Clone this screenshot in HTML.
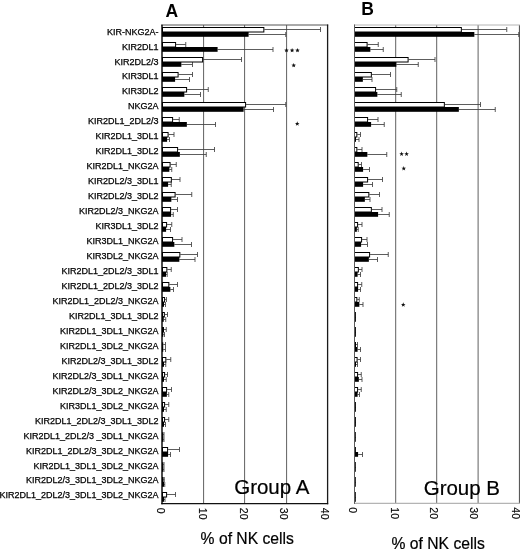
<!DOCTYPE html>
<html><head><meta charset="utf-8"><title>Figure</title>
<style>
html,body{margin:0;padding:0;background:#fff;}
svg text{font-family:"Liberation Sans",sans-serif;}
body{width:520px;height:550px;position:relative;overflow:hidden;font-family:"Liberation Sans",sans-serif;}
</style></head><body>
<svg width="520" height="550" viewBox="0 0 520 550" style="position:absolute;left:0;top:0;will-change:transform">
<rect width="520" height="550" fill="#fff"/>
<line x1="203.6" y1="25" x2="203.6" y2="503.5" stroke="#606060" stroke-width="1"/>
<line x1="244.6" y1="25" x2="244.6" y2="503.5" stroke="#606060" stroke-width="1"/>
<line x1="286.6" y1="25" x2="286.6" y2="503.5" stroke="#606060" stroke-width="1"/>
<line x1="161.2" y1="25.0" x2="328.2" y2="25.0" stroke="#555" stroke-width="1"/>
<line x1="327.6" y1="24.5" x2="327.6" y2="504.2" stroke="#1a1a1a" stroke-width="1.3"/>
<line x1="161.3" y1="503.6" x2="328.2" y2="503.6" stroke="#111" stroke-width="1.3"/>
<line x1="395.7" y1="25" x2="395.7" y2="503" stroke="#606060" stroke-width="1"/>
<line x1="436.7" y1="25" x2="436.7" y2="503" stroke="#606060" stroke-width="1"/>
<line x1="478.1" y1="25" x2="478.1" y2="503" stroke="#606060" stroke-width="1"/>
<line x1="519.6" y1="25" x2="519.6" y2="503.5" stroke="#5a5a5a" stroke-width="1.4"/>
<line x1="354" y1="25" x2="520" y2="25" stroke="#b4b4b4" stroke-width="1"/>
<line x1="354" y1="503.4" x2="520" y2="503.4" stroke="#b4b4b4" stroke-width="1.1"/>
<path d="M264.35 29.50 H320.50 M320.50 27.00 V32.00" stroke="#404040" stroke-width="0.85" fill="none"/>
<path d="M248.60 34.50 H285.75 M285.75 32.00 V37.00" stroke="#404040" stroke-width="0.85" fill="none"/>
<rect x="162.50" y="27.50" width="101.35" height="4.50" fill="#fff" stroke="#000" stroke-width="1"/>
<rect x="162.00" y="32.00" width="86.60" height="4.80" fill="#000"/>
<path d="M176.10 44.50 H185.75 M185.75 42.00 V47.00" stroke="#404040" stroke-width="0.85" fill="none"/>
<path d="M217.60 49.50 H273.00 M273.00 47.00 V52.00" stroke="#404040" stroke-width="0.85" fill="none"/>
<rect x="162.50" y="42.50" width="13.10" height="4.50" fill="#fff" stroke="#000" stroke-width="1"/>
<rect x="162.00" y="47.00" width="55.60" height="4.80" fill="#000"/>
<path d="M203.10 59.50 H241.50 M241.50 57.00 V62.00" stroke="#404040" stroke-width="0.85" fill="none"/>
<path d="M181.35 64.50 H192.50 M192.50 62.00 V67.00" stroke="#404040" stroke-width="0.85" fill="none"/>
<rect x="162.50" y="57.50" width="40.10" height="4.50" fill="#fff" stroke="#000" stroke-width="1"/>
<rect x="162.00" y="62.00" width="19.35" height="4.80" fill="#000"/>
<path d="M178.60 74.50 H192.50 M192.50 72.00 V77.00" stroke="#404040" stroke-width="0.85" fill="none"/>
<path d="M175.10 79.50 H189.50 M189.50 77.00 V82.00" stroke="#404040" stroke-width="0.85" fill="none"/>
<rect x="162.50" y="72.50" width="15.60" height="4.50" fill="#fff" stroke="#000" stroke-width="1"/>
<rect x="162.00" y="77.00" width="13.10" height="4.80" fill="#000"/>
<path d="M187.10 89.50 H208.25 M208.25 87.00 V92.00" stroke="#404040" stroke-width="0.85" fill="none"/>
<path d="M184.35 94.50 H200.50 M200.50 92.00 V97.00" stroke="#404040" stroke-width="0.85" fill="none"/>
<rect x="162.50" y="87.50" width="24.10" height="4.50" fill="#fff" stroke="#000" stroke-width="1"/>
<rect x="162.00" y="92.00" width="22.35" height="4.80" fill="#000"/>
<path d="M246.10 104.50 H285.75 M285.75 102.00 V107.00" stroke="#404040" stroke-width="0.85" fill="none"/>
<path d="M243.60 109.50 H273.50 M273.50 107.00 V112.00" stroke="#404040" stroke-width="0.85" fill="none"/>
<rect x="162.50" y="102.50" width="83.10" height="4.50" fill="#fff" stroke="#000" stroke-width="1"/>
<rect x="162.00" y="107.00" width="81.60" height="4.80" fill="#000"/>
<path d="M173.10 119.50 H179.25 M179.25 117.00 V122.00" stroke="#404040" stroke-width="0.85" fill="none"/>
<path d="M186.85 124.50 H215.50 M215.50 122.00 V127.00" stroke="#404040" stroke-width="0.85" fill="none"/>
<rect x="162.50" y="117.50" width="10.10" height="4.50" fill="#fff" stroke="#000" stroke-width="1"/>
<rect x="162.00" y="122.00" width="24.85" height="4.80" fill="#000"/>
<path d="M168.60 134.50 H174.00 M174.00 132.00 V137.00" stroke="#404040" stroke-width="0.85" fill="none"/>
<path d="M167.10 139.50 H169.50 M169.50 137.00 V142.00" stroke="#404040" stroke-width="0.85" fill="none"/>
<rect x="162.50" y="132.50" width="5.60" height="4.50" fill="#fff" stroke="#000" stroke-width="1"/>
<rect x="162.00" y="137.00" width="5.10" height="4.80" fill="#000"/>
<path d="M178.10 149.50 H214.50 M214.50 147.00 V152.00" stroke="#404040" stroke-width="0.85" fill="none"/>
<path d="M179.85 154.50 H206.25 M206.25 152.00 V157.00" stroke="#404040" stroke-width="0.85" fill="none"/>
<rect x="162.50" y="147.50" width="15.10" height="4.50" fill="#fff" stroke="#000" stroke-width="1"/>
<rect x="162.00" y="152.00" width="17.85" height="4.80" fill="#000"/>
<path d="M170.60 164.50 H176.25 M176.25 162.00 V167.00" stroke="#404040" stroke-width="0.85" fill="none"/>
<path d="M169.35 169.50 H171.75 M171.75 167.00 V172.00" stroke="#404040" stroke-width="0.85" fill="none"/>
<rect x="162.50" y="162.50" width="7.60" height="4.50" fill="#fff" stroke="#000" stroke-width="1"/>
<rect x="162.00" y="167.00" width="7.35" height="4.80" fill="#000"/>
<path d="M171.85 179.50 H180.00 M180.00 177.00 V182.00" stroke="#404040" stroke-width="0.85" fill="none"/>
<path d="M168.10 184.50 H171.25 M171.25 182.00 V187.00" stroke="#404040" stroke-width="0.85" fill="none"/>
<rect x="162.50" y="177.50" width="8.85" height="4.50" fill="#fff" stroke="#000" stroke-width="1"/>
<rect x="162.00" y="182.00" width="6.10" height="4.80" fill="#000"/>
<path d="M175.60 194.50 H191.75 M191.75 192.00 V197.00" stroke="#404040" stroke-width="0.85" fill="none"/>
<path d="M171.35 199.50 H177.50 M177.50 197.00 V202.00" stroke="#404040" stroke-width="0.85" fill="none"/>
<rect x="162.50" y="192.50" width="12.60" height="4.50" fill="#fff" stroke="#000" stroke-width="1"/>
<rect x="162.00" y="197.00" width="9.35" height="4.80" fill="#000"/>
<path d="M171.10 209.50 H177.50 M177.50 207.00 V212.00" stroke="#404040" stroke-width="0.85" fill="none"/>
<path d="M171.10 214.50 H173.25 M173.25 212.00 V217.00" stroke="#404040" stroke-width="0.85" fill="none"/>
<rect x="162.50" y="207.50" width="8.10" height="4.50" fill="#fff" stroke="#000" stroke-width="1"/>
<rect x="162.00" y="212.00" width="9.10" height="4.80" fill="#000"/>
<path d="M167.10 224.50 H171.75 M171.75 222.00 V227.00" stroke="#404040" stroke-width="0.85" fill="none"/>
<path d="M166.10 229.50 H170.50 M170.50 227.00 V232.00" stroke="#404040" stroke-width="0.85" fill="none"/>
<rect x="162.50" y="222.50" width="4.10" height="4.50" fill="#fff" stroke="#000" stroke-width="1"/>
<rect x="162.00" y="227.00" width="4.10" height="4.80" fill="#000"/>
<path d="M173.10 239.50 H182.00 M182.00 237.00 V242.00" stroke="#404040" stroke-width="0.85" fill="none"/>
<path d="M174.35 244.50 H191.50 M191.50 242.00 V247.00" stroke="#404040" stroke-width="0.85" fill="none"/>
<rect x="162.50" y="237.50" width="10.10" height="4.50" fill="#fff" stroke="#000" stroke-width="1"/>
<rect x="162.00" y="242.00" width="12.35" height="4.80" fill="#000"/>
<path d="M180.35 254.50 H197.50 M197.50 252.00 V257.00" stroke="#404040" stroke-width="0.85" fill="none"/>
<path d="M179.35 259.50 H195.00 M195.00 257.00 V262.00" stroke="#404040" stroke-width="0.85" fill="none"/>
<rect x="162.50" y="252.50" width="17.35" height="4.50" fill="#fff" stroke="#000" stroke-width="1"/>
<rect x="162.00" y="257.00" width="17.35" height="4.80" fill="#000"/>
<path d="M167.35 269.50 H171.25 M171.25 267.00 V272.00" stroke="#404040" stroke-width="0.85" fill="none"/>
<path d="M166.00 274.50 H167.20 M167.20 272.00 V277.00" stroke="#404040" stroke-width="0.85" fill="none"/>
<rect x="162.50" y="267.50" width="4.35" height="4.50" fill="#fff" stroke="#000" stroke-width="1"/>
<rect x="162.00" y="272.00" width="4.00" height="4.80" fill="#000"/>
<path d="M169.35 284.50 H177.50 M177.50 282.00 V287.00" stroke="#404040" stroke-width="0.85" fill="none"/>
<path d="M170.35 289.50 H173.50 M173.50 287.00 V292.00" stroke="#404040" stroke-width="0.85" fill="none"/>
<rect x="162.50" y="282.50" width="6.35" height="4.50" fill="#fff" stroke="#000" stroke-width="1"/>
<rect x="162.00" y="287.00" width="8.35" height="4.80" fill="#000"/>
<path d="M165.10 299.50 H166.50 M166.50 297.00 V302.00" stroke="#404040" stroke-width="0.85" fill="none"/>
<path d="M164.00 304.50 H165.50 M165.50 302.00 V307.00" stroke="#404040" stroke-width="0.85" fill="none"/>
<rect x="162.50" y="297.50" width="2.10" height="4.50" fill="#fff" stroke="#000" stroke-width="1"/>
<rect x="162.00" y="302.00" width="2.00" height="4.80" fill="#000"/>
<path d="M164.85 314.50 H167.50 M167.50 312.00 V317.00" stroke="#404040" stroke-width="0.85" fill="none"/>
<path d="M163.75 319.50 H165.75 M165.75 317.00 V322.00" stroke="#404040" stroke-width="0.85" fill="none"/>
<rect x="162.50" y="312.50" width="1.85" height="4.50" fill="#fff" stroke="#000" stroke-width="1"/>
<rect x="162.00" y="317.00" width="1.75" height="4.80" fill="#000"/>
<path d="M164.00 329.50 H166.25 M166.25 327.00 V332.00" stroke="#404040" stroke-width="0.85" fill="none"/>
<path d="M163.25 334.50 H164.50 M164.50 332.00 V337.00" stroke="#404040" stroke-width="0.85" fill="none"/>
<rect x="162.50" y="327.50" width="1.00" height="4.50" fill="#fff" stroke="#000" stroke-width="1"/>
<rect x="162.00" y="332.00" width="1.25" height="4.80" fill="#000"/>
<path d="M163.25 344.50 H165.50 M165.50 342.00 V347.00" stroke="#404040" stroke-width="0.85" fill="none"/>
<path d="M163.25 349.50 H165.50 M165.50 347.00 V352.00" stroke="#404040" stroke-width="0.85" fill="none"/>
<rect x="162.00" y="342.30" width="1.25" height="4.70" fill="#111"/>
<rect x="162.00" y="347.00" width="1.25" height="4.80" fill="#000"/>
<path d="M166.35 359.50 H170.75 M170.75 357.00 V362.00" stroke="#404040" stroke-width="0.85" fill="none"/>
<path d="M164.00 364.50 H165.75 M165.75 362.00 V367.00" stroke="#404040" stroke-width="0.85" fill="none"/>
<rect x="162.50" y="357.50" width="3.35" height="4.50" fill="#fff" stroke="#000" stroke-width="1"/>
<rect x="162.00" y="362.00" width="2.00" height="4.80" fill="#000"/>
<path d="M165.10 374.50 H167.50 M167.50 372.00 V377.00" stroke="#404040" stroke-width="0.85" fill="none"/>
<path d="M164.00 379.50 H166.25 M166.25 377.00 V382.00" stroke="#404040" stroke-width="0.85" fill="none"/>
<rect x="162.50" y="372.50" width="2.10" height="4.50" fill="#fff" stroke="#000" stroke-width="1"/>
<rect x="162.00" y="377.00" width="2.00" height="4.80" fill="#000"/>
<path d="M167.10 389.50 H171.50 M171.50 387.00 V392.00" stroke="#404040" stroke-width="0.85" fill="none"/>
<path d="M166.85 394.50 H168.75 M168.75 392.00 V397.00" stroke="#404040" stroke-width="0.85" fill="none"/>
<rect x="162.50" y="387.50" width="4.10" height="4.50" fill="#fff" stroke="#000" stroke-width="1"/>
<rect x="162.00" y="392.00" width="4.85" height="4.80" fill="#000"/>
<path d="M165.10 404.50 H168.75 M168.75 402.00 V407.00" stroke="#404040" stroke-width="0.85" fill="none"/>
<path d="M164.00 409.50 H166.25 M166.25 407.00 V412.00" stroke="#404040" stroke-width="0.85" fill="none"/>
<rect x="162.50" y="402.50" width="2.10" height="4.50" fill="#fff" stroke="#000" stroke-width="1"/>
<rect x="162.00" y="407.00" width="2.00" height="4.80" fill="#000"/>
<path d="M165.10 419.50 H168.75 M168.75 417.00 V422.00" stroke="#404040" stroke-width="0.85" fill="none"/>
<path d="M164.00 424.50 H165.50 M165.50 422.00 V427.00" stroke="#404040" stroke-width="0.85" fill="none"/>
<rect x="162.50" y="417.50" width="2.10" height="4.50" fill="#fff" stroke="#000" stroke-width="1"/>
<rect x="162.00" y="422.00" width="2.00" height="4.80" fill="#000"/>
<path d="M163.25 434.50 H164.00 M164.00 432.00 V437.00" stroke="#404040" stroke-width="0.85" fill="none"/>
<path d="M163.25 439.50 H164.00 M164.00 437.00 V442.00" stroke="#404040" stroke-width="0.85" fill="none"/>
<rect x="162.00" y="432.30" width="1.25" height="4.70" fill="#111"/>
<rect x="162.00" y="437.00" width="1.25" height="4.80" fill="#000"/>
<path d="M168.10 449.50 H179.50 M179.50 447.00 V452.00" stroke="#404040" stroke-width="0.85" fill="none"/>
<path d="M168.10 454.50 H170.50 M170.50 452.00 V457.00" stroke="#404040" stroke-width="0.85" fill="none"/>
<rect x="162.50" y="447.50" width="5.10" height="4.50" fill="#fff" stroke="#000" stroke-width="1"/>
<rect x="162.00" y="452.00" width="6.10" height="4.80" fill="#000"/>
<path d="M163.25 464.50 H164.00 M164.00 462.00 V467.00" stroke="#404040" stroke-width="0.85" fill="none"/>
<path d="M163.25 469.50 H164.00 M164.00 467.00 V472.00" stroke="#404040" stroke-width="0.85" fill="none"/>
<rect x="162.00" y="462.30" width="1.25" height="4.70" fill="#111"/>
<rect x="162.00" y="467.00" width="1.25" height="4.80" fill="#000"/>
<path d="M163.50 479.50 H164.25 M164.25 477.00 V482.00" stroke="#404040" stroke-width="0.85" fill="none"/>
<path d="M164.00 484.50 H164.75 M164.75 482.00 V487.00" stroke="#404040" stroke-width="0.85" fill="none"/>
<rect x="162.50" y="477.50" width="0.50" height="4.50" fill="#fff" stroke="#000" stroke-width="1"/>
<rect x="162.00" y="482.00" width="2.00" height="4.80" fill="#000"/>
<path d="M167.10 494.50 H175.50 M175.50 492.00 V497.00" stroke="#404040" stroke-width="0.85" fill="none"/>
<path d="M164.00 499.50 H165.00 M165.00 497.00 V502.00" stroke="#404040" stroke-width="0.85" fill="none"/>
<rect x="162.50" y="492.50" width="4.10" height="4.50" fill="#fff" stroke="#000" stroke-width="1"/>
<rect x="162.00" y="497.00" width="2.00" height="4.80" fill="#000"/>
<path d="M461.85 29.50 H506.75 M506.75 27.00 V32.00" stroke="#404040" stroke-width="0.85" fill="none"/>
<path d="M474.35 34.50 H518.75 M518.75 32.00 V37.00" stroke="#404040" stroke-width="0.85" fill="none"/>
<rect x="354.50" y="27.50" width="106.85" height="4.50" fill="#fff" stroke="#000" stroke-width="1"/>
<rect x="354.00" y="32.00" width="120.35" height="4.80" fill="#000"/>
<path d="M367.60 44.50 H378.25 M378.25 42.00 V47.00" stroke="#404040" stroke-width="0.85" fill="none"/>
<path d="M370.35 49.50 H383.25 M383.25 47.00 V52.00" stroke="#404040" stroke-width="0.85" fill="none"/>
<rect x="354.50" y="42.50" width="12.60" height="4.50" fill="#fff" stroke="#000" stroke-width="1"/>
<rect x="354.00" y="47.00" width="16.35" height="4.80" fill="#000"/>
<path d="M408.60 59.50 H435.00 M435.00 57.00 V62.00" stroke="#404040" stroke-width="0.85" fill="none"/>
<path d="M396.35 64.50 H418.25 M418.25 62.00 V67.00" stroke="#404040" stroke-width="0.85" fill="none"/>
<rect x="354.50" y="57.50" width="53.60" height="4.50" fill="#fff" stroke="#000" stroke-width="1"/>
<rect x="354.00" y="62.00" width="42.35" height="4.80" fill="#000"/>
<path d="M371.85 74.50 H390.50 M390.50 72.00 V77.00" stroke="#404040" stroke-width="0.85" fill="none"/>
<path d="M362.85 79.50 H372.00 M372.00 77.00 V82.00" stroke="#404040" stroke-width="0.85" fill="none"/>
<rect x="354.50" y="72.50" width="16.85" height="4.50" fill="#fff" stroke="#000" stroke-width="1"/>
<rect x="354.00" y="77.00" width="8.85" height="4.80" fill="#000"/>
<path d="M376.10 89.50 H396.75 M396.75 87.00 V92.00" stroke="#404040" stroke-width="0.85" fill="none"/>
<path d="M377.35 94.50 H401.25 M401.25 92.00 V97.00" stroke="#404040" stroke-width="0.85" fill="none"/>
<rect x="354.50" y="87.50" width="21.10" height="4.50" fill="#fff" stroke="#000" stroke-width="1"/>
<rect x="354.00" y="92.00" width="23.35" height="4.80" fill="#000"/>
<path d="M444.85 104.50 H480.50 M480.50 102.00 V107.00" stroke="#404040" stroke-width="0.85" fill="none"/>
<path d="M458.85 109.50 H495.25 M495.25 107.00 V112.00" stroke="#404040" stroke-width="0.85" fill="none"/>
<rect x="354.50" y="102.50" width="89.85" height="4.50" fill="#fff" stroke="#000" stroke-width="1"/>
<rect x="354.00" y="107.00" width="104.85" height="4.80" fill="#000"/>
<path d="M368.10 119.50 H378.00 M378.00 117.00 V122.00" stroke="#404040" stroke-width="0.85" fill="none"/>
<path d="M371.10 124.50 H384.25 M384.25 122.00 V127.00" stroke="#404040" stroke-width="0.85" fill="none"/>
<rect x="354.50" y="117.50" width="13.10" height="4.50" fill="#fff" stroke="#000" stroke-width="1"/>
<rect x="354.00" y="122.00" width="17.10" height="4.80" fill="#000"/>
<path d="M357.35 134.50 H360.50 M360.50 132.00 V137.00" stroke="#404040" stroke-width="0.85" fill="none"/>
<path d="M356.00 139.50 H359.00 M359.00 137.00 V142.00" stroke="#404040" stroke-width="0.85" fill="none"/>
<rect x="354.50" y="132.50" width="2.35" height="4.50" fill="#fff" stroke="#000" stroke-width="1"/>
<rect x="354.00" y="137.00" width="2.00" height="4.80" fill="#000"/>
<path d="M357.35 149.50 H362.00 M362.00 147.00 V152.00" stroke="#404040" stroke-width="0.85" fill="none"/>
<path d="M367.35 154.50 H386.75 M386.75 152.00 V157.00" stroke="#404040" stroke-width="0.85" fill="none"/>
<rect x="354.50" y="147.50" width="2.35" height="4.50" fill="#fff" stroke="#000" stroke-width="1"/>
<rect x="354.00" y="152.00" width="13.35" height="4.80" fill="#000"/>
<path d="M358.70 164.50 H361.50 M361.50 162.00 V167.00" stroke="#404040" stroke-width="0.85" fill="none"/>
<path d="M363.10 169.50 H369.50 M369.50 167.00 V172.00" stroke="#404040" stroke-width="0.85" fill="none"/>
<rect x="354.50" y="162.50" width="3.70" height="4.50" fill="#fff" stroke="#000" stroke-width="1"/>
<rect x="354.00" y="167.00" width="9.10" height="4.80" fill="#000"/>
<path d="M368.10 179.50 H382.50 M382.50 177.00 V182.00" stroke="#404040" stroke-width="0.85" fill="none"/>
<path d="M363.10 184.50 H372.50 M372.50 182.00 V187.00" stroke="#404040" stroke-width="0.85" fill="none"/>
<rect x="354.50" y="177.50" width="13.10" height="4.50" fill="#fff" stroke="#000" stroke-width="1"/>
<rect x="354.00" y="182.00" width="9.10" height="4.80" fill="#000"/>
<path d="M369.35 194.50 H379.50 M379.50 192.00 V197.00" stroke="#404040" stroke-width="0.85" fill="none"/>
<path d="M364.85 199.50 H370.00 M370.00 197.00 V202.00" stroke="#404040" stroke-width="0.85" fill="none"/>
<rect x="354.50" y="192.50" width="14.35" height="4.50" fill="#fff" stroke="#000" stroke-width="1"/>
<rect x="354.00" y="197.00" width="10.85" height="4.80" fill="#000"/>
<path d="M371.85 209.50 H382.00 M382.00 207.00 V212.00" stroke="#404040" stroke-width="0.85" fill="none"/>
<path d="M378.10 214.50 H389.25 M389.25 212.00 V217.00" stroke="#404040" stroke-width="0.85" fill="none"/>
<rect x="354.50" y="207.50" width="16.85" height="4.50" fill="#fff" stroke="#000" stroke-width="1"/>
<rect x="354.00" y="212.00" width="24.10" height="4.80" fill="#000"/>
<path d="M358.10 224.50 H362.00 M362.00 222.00 V227.00" stroke="#404040" stroke-width="0.85" fill="none"/>
<path d="M356.85 229.50 H358.25 M358.25 227.00 V232.00" stroke="#404040" stroke-width="0.85" fill="none"/>
<rect x="354.50" y="222.50" width="3.10" height="4.50" fill="#fff" stroke="#000" stroke-width="1"/>
<rect x="354.00" y="227.00" width="2.85" height="4.80" fill="#000"/>
<path d="M362.10 239.50 H367.00 M367.00 237.00 V242.00" stroke="#404040" stroke-width="0.85" fill="none"/>
<path d="M361.10 244.50 H367.50 M367.50 242.00 V247.00" stroke="#404040" stroke-width="0.85" fill="none"/>
<rect x="354.50" y="237.50" width="7.10" height="4.50" fill="#fff" stroke="#000" stroke-width="1"/>
<rect x="354.00" y="242.00" width="7.10" height="4.80" fill="#000"/>
<path d="M370.10 254.50 H388.25 M388.25 252.00 V257.00" stroke="#404040" stroke-width="0.85" fill="none"/>
<path d="M368.85 259.50 H377.50 M377.50 257.00 V262.00" stroke="#404040" stroke-width="0.85" fill="none"/>
<rect x="354.50" y="252.50" width="15.10" height="4.50" fill="#fff" stroke="#000" stroke-width="1"/>
<rect x="354.00" y="257.00" width="14.85" height="4.80" fill="#000"/>
<path d="M358.85 269.50 H362.00 M362.00 267.00 V272.00" stroke="#404040" stroke-width="0.85" fill="none"/>
<path d="M357.60 274.50 H360.50 M360.50 272.00 V277.00" stroke="#404040" stroke-width="0.85" fill="none"/>
<rect x="354.50" y="267.50" width="3.85" height="4.50" fill="#fff" stroke="#000" stroke-width="1"/>
<rect x="354.00" y="272.00" width="3.60" height="4.80" fill="#000"/>
<path d="M358.10 284.50 H361.75 M361.75 282.00 V287.00" stroke="#404040" stroke-width="0.85" fill="none"/>
<path d="M358.10 289.50 H360.50 M360.50 287.00 V292.00" stroke="#404040" stroke-width="0.85" fill="none"/>
<rect x="354.50" y="282.50" width="3.10" height="4.50" fill="#fff" stroke="#000" stroke-width="1"/>
<rect x="354.00" y="287.00" width="4.10" height="4.80" fill="#000"/>
<path d="M357.35 299.50 H359.25 M359.25 297.00 V302.00" stroke="#404040" stroke-width="0.85" fill="none"/>
<path d="M359.35 304.50 H363.00 M363.00 302.00 V307.00" stroke="#404040" stroke-width="0.85" fill="none"/>
<rect x="354.50" y="297.50" width="2.35" height="4.50" fill="#fff" stroke="#000" stroke-width="1"/>
<rect x="354.00" y="302.00" width="5.35" height="4.80" fill="#000"/>
<rect x="354.50" y="312.50" width="0.90" height="4.50" fill="#fff" stroke="#000" stroke-width="1"/>
<rect x="354.00" y="317.00" width="1.90" height="4.80" fill="#000"/>
<rect x="354.50" y="327.50" width="0.90" height="4.50" fill="#fff" stroke="#000" stroke-width="1"/>
<rect x="354.00" y="332.00" width="1.90" height="4.80" fill="#000"/>
<path d="M356.00 344.50 H357.50 M357.50 342.00 V347.00" stroke="#404040" stroke-width="0.85" fill="none"/>
<path d="M357.60 349.50 H360.50 M360.50 347.00 V352.00" stroke="#404040" stroke-width="0.85" fill="none"/>
<rect x="354.50" y="342.50" width="1.00" height="4.50" fill="#fff" stroke="#000" stroke-width="1"/>
<rect x="354.00" y="347.00" width="3.60" height="4.80" fill="#000"/>
<path d="M357.60 359.50 H360.50 M360.50 357.00 V362.00" stroke="#404040" stroke-width="0.85" fill="none"/>
<path d="M356.00 364.50 H357.50 M357.50 362.00 V367.00" stroke="#404040" stroke-width="0.85" fill="none"/>
<rect x="354.50" y="357.50" width="2.60" height="4.50" fill="#fff" stroke="#000" stroke-width="1"/>
<rect x="354.00" y="362.00" width="2.00" height="4.80" fill="#000"/>
<path d="M358.10 374.50 H361.25 M361.25 372.00 V377.00" stroke="#404040" stroke-width="0.85" fill="none"/>
<path d="M358.85 379.50 H362.00 M362.00 377.00 V382.00" stroke="#404040" stroke-width="0.85" fill="none"/>
<rect x="354.50" y="372.50" width="3.10" height="4.50" fill="#fff" stroke="#000" stroke-width="1"/>
<rect x="354.00" y="377.00" width="4.85" height="4.80" fill="#000"/>
<path d="M358.10 389.50 H361.25 M361.25 387.00 V392.00" stroke="#404040" stroke-width="0.85" fill="none"/>
<path d="M357.60 394.50 H359.50 M359.50 392.00 V397.00" stroke="#404040" stroke-width="0.85" fill="none"/>
<rect x="354.50" y="387.50" width="3.10" height="4.50" fill="#fff" stroke="#000" stroke-width="1"/>
<rect x="354.00" y="392.00" width="3.60" height="4.80" fill="#000"/>
<rect x="354.50" y="402.50" width="0.90" height="4.50" fill="#fff" stroke="#000" stroke-width="1"/>
<rect x="354.00" y="407.00" width="1.90" height="4.80" fill="#000"/>
<rect x="354.50" y="417.50" width="0.90" height="4.50" fill="#fff" stroke="#000" stroke-width="1"/>
<rect x="354.00" y="422.00" width="1.90" height="4.80" fill="#000"/>
<rect x="354.50" y="432.50" width="0.80" height="4.50" fill="#fff" stroke="#000" stroke-width="1"/>
<rect x="354.00" y="437.00" width="1.80" height="4.80" fill="#000"/>
<path d="M358.10 454.50 H362.50 M362.50 452.00 V457.00" stroke="#404040" stroke-width="0.85" fill="none"/>
<rect x="354.50" y="447.50" width="0.90" height="4.50" fill="#fff" stroke="#000" stroke-width="1"/>
<rect x="354.00" y="452.00" width="4.10" height="4.80" fill="#000"/>
<rect x="354.50" y="462.50" width="0.80" height="4.50" fill="#fff" stroke="#000" stroke-width="1"/>
<rect x="354.00" y="467.00" width="1.80" height="4.80" fill="#000"/>
<rect x="354.50" y="477.50" width="0.80" height="4.50" fill="#fff" stroke="#000" stroke-width="1"/>
<rect x="354.00" y="482.00" width="1.80" height="4.80" fill="#000"/>
<rect x="354.50" y="492.50" width="0.80" height="4.50" fill="#fff" stroke="#000" stroke-width="1"/>
<rect x="354.00" y="497.00" width="1.80" height="4.80" fill="#000"/>
<line x1="162" y1="24.7" x2="162" y2="504.2" stroke="#000" stroke-width="1.4"/>
<line x1="354.5" y1="24.5" x2="354.5" y2="503.9" stroke="#5a5a5a" stroke-width="1"/>
<polygon points="286.50,48.00 287.09,49.58 288.78,49.66 287.46,50.71 287.91,52.34 286.50,51.41 285.09,52.34 285.54,50.71 284.22,49.66 285.91,49.58" fill="#111"/>
<polygon points="292.10,48.00 292.69,49.58 294.38,49.66 293.06,50.71 293.51,52.34 292.10,51.41 290.69,52.34 291.14,50.71 289.82,49.66 291.51,49.58" fill="#111"/>
<polygon points="297.50,48.00 298.09,49.58 299.78,49.66 298.46,50.71 298.91,52.34 297.50,51.41 296.09,52.34 296.54,50.71 295.22,49.66 296.91,49.58" fill="#111"/>
<polygon points="293.70,63.00 294.29,64.58 295.98,64.66 294.66,65.71 295.11,67.34 293.70,66.41 292.29,67.34 292.74,65.71 291.42,64.66 293.11,64.58" fill="#111"/>
<polygon points="297.25,121.30 297.84,122.88 299.53,122.96 298.21,124.01 298.66,125.64 297.25,124.71 295.84,125.64 296.29,124.01 294.97,122.96 296.66,122.88" fill="#111"/>
<polygon points="401.60,151.55 402.19,153.13 403.88,153.21 402.56,154.26 403.01,155.89 401.60,154.96 400.19,155.89 400.64,154.26 399.32,153.21 401.01,153.13" fill="#111"/>
<polygon points="406.60,151.55 407.19,153.13 408.88,153.21 407.56,154.26 408.01,155.89 406.60,154.96 405.19,155.89 405.64,154.26 404.32,153.21 406.01,153.13" fill="#111"/>
<polygon points="403.75,166.05 404.34,167.63 406.03,167.71 404.71,168.76 405.16,170.39 403.75,169.46 402.34,170.39 402.79,168.76 401.47,167.71 403.16,167.63" fill="#111"/>
<polygon points="403.25,302.30 403.84,303.88 405.53,303.96 404.21,305.01 404.66,306.64 403.25,305.71 401.84,306.64 402.29,305.01 400.97,303.96 402.66,303.88" fill="#111"/>
<g font-size="9px" fill="#000" stroke="#000" stroke-width="0.25" text-anchor="end">
<text x="158.6" y="34.60" xml:space="preserve">KIR-NKG2A-</text>
<text x="158.6" y="49.56" xml:space="preserve">KIR2DL1</text>
<text x="158.6" y="64.52" xml:space="preserve">KIR2DL2/3</text>
<text x="158.6" y="79.49" xml:space="preserve">KIR3DL1</text>
<text x="158.6" y="94.45" xml:space="preserve">KIR3DL2</text>
<text x="158.6" y="109.41" xml:space="preserve">NKG2A</text>
<text x="158.6" y="124.37" xml:space="preserve">KIR2DL1_2DL2/3</text>
<text x="158.6" y="139.33" xml:space="preserve">KIR2DL1_3DL1</text>
<text x="158.6" y="154.30" xml:space="preserve">KIR2DL1_3DL2</text>
<text x="158.6" y="169.26" xml:space="preserve">KIR2DL1_NKG2A</text>
<text x="158.6" y="184.22" xml:space="preserve">KIR2DL2/3_3DL1</text>
<text x="158.6" y="199.18" xml:space="preserve">KIR2DL2/3_3DL2</text>
<text x="158.6" y="214.14" xml:space="preserve">KIR2DL2/3_NKG2A</text>
<text x="158.6" y="229.11" xml:space="preserve">KIR3DL1_3DL2</text>
<text x="158.6" y="244.07" xml:space="preserve">KIR3DL1_NKG2A</text>
<text x="158.6" y="259.03" xml:space="preserve">KIR3DL2_NKG2A</text>
<text x="158.6" y="273.99" xml:space="preserve">KIR2DL1_2DL2/3_3DL1</text>
<text x="158.6" y="288.95" xml:space="preserve">KIR2DL1_2DL2/3_3DL2</text>
<text x="158.6" y="303.92" xml:space="preserve">KIR2DL1_2DL2/3_NKG2A</text>
<text x="158.6" y="318.88" xml:space="preserve">KIR2DL1_3DL1_3DL2</text>
<text x="158.6" y="333.84" xml:space="preserve">KIR2DL1_3DL1_NKG2A</text>
<text x="158.6" y="348.80" xml:space="preserve">KIR2DL1_3DL2_NKG2A</text>
<text x="158.6" y="363.76" xml:space="preserve">KIR2DL2/3_3DL1_3DL2</text>
<text x="158.6" y="378.73" xml:space="preserve">KIR2DL2/3_3DL1_NKG2A</text>
<text x="158.6" y="393.69" xml:space="preserve">KIR2DL2/3_3DL2_NKG2A</text>
<text x="158.6" y="408.65" xml:space="preserve">KIR3DL1_3DL2_NKG2A</text>
<text x="158.6" y="423.61" xml:space="preserve">KIR2DL1_2DL2/3_3DL1_3DL2</text>
<text x="158.6" y="438.57" xml:space="preserve">KIR2DL1_2DL2/3 _3DL1_NKG2A</text>
<text x="158.6" y="453.54" xml:space="preserve">KIR2DL1_2DL2/3_3DL2_NKG2A</text>
<text x="158.6" y="468.50" xml:space="preserve">KIR2DL1_3DL1_3DL2_NKG2A</text>
<text x="158.6" y="483.46" xml:space="preserve">KIR2DL2/3_3DL1_3DL2_NKG2A</text>
<text x="158.6" y="498.42" xml:space="preserve">KIR2DL1_2DL2/3_3DL1_3DL2_NKG2A</text>
</g>
<g font-size="10.5px" fill="#000" stroke="#000" stroke-width="0.15">
<text transform="translate(157.20,507.8) rotate(90)" x="0" y="0">0</text>
<text transform="translate(199.10,507.8) rotate(90)" x="0" y="0">10</text>
<text transform="translate(240.40,507.8) rotate(90)" x="0" y="0">20</text>
<text transform="translate(279.70,507.8) rotate(90)" x="0" y="0">30</text>
<text transform="translate(321.10,507.8) rotate(90)" x="0" y="0">40</text>
<text transform="translate(349.20,507.3) rotate(90)" x="0" y="0">0</text>
<text transform="translate(391.30,507.3) rotate(90)" x="0" y="0">10</text>
<text transform="translate(430.20,507.3) rotate(90)" x="0" y="0">20</text>
<text transform="translate(470.10,507.3) rotate(90)" x="0" y="0">30</text>
<text transform="translate(512.10,507.3) rotate(90)" x="0" y="0">40</text>
</g>
<g fill="#000" stroke="#000" stroke-width="0.2">
<text x="234.2" y="493.9" font-size="20.5px">Group A</text>
<text x="423.7" y="495.4" font-size="20.5px">Group B</text>
<text x="200.6" y="544.3" font-size="15.7px">% of NK cells</text>
<text x="391.5" y="548.8" font-size="15.7px">% of NK cells</text>
<text x="165.6" y="17" font-size="17.5px" font-weight="bold" stroke="none">A</text>
<text x="361.2" y="15.2" font-size="17.5px" font-weight="bold" stroke="none">B</text>
</g>
</svg>
</body></html>
